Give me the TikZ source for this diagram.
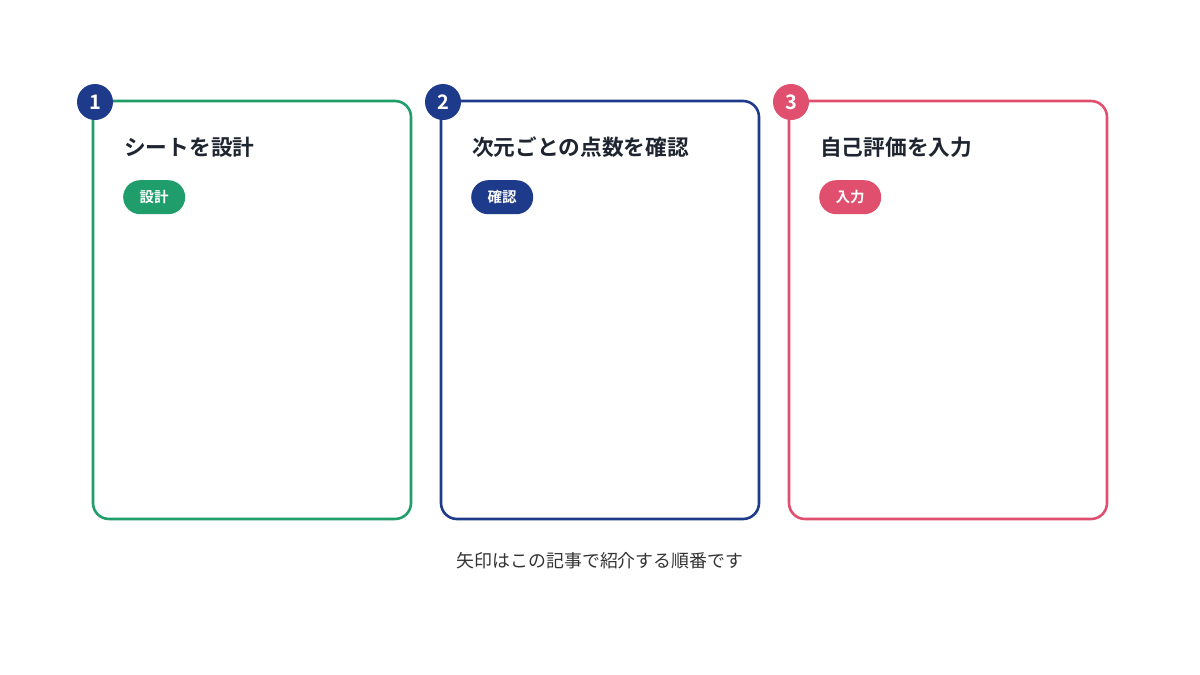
\documentclass[tikz,border=0pt]{standalone}
\usepackage{fontspec}
\setmainfont{Noto Sans CJK JP}
\newfontfamily\jpbold{Noto Sans CJK JP Bold}
\newfontfamily\jpreg{Noto Sans CJK JP}
\definecolor{cgreen}{HTML}{1F9D6B}
\definecolor{cblue}{HTML}{1E3A8A}
\definecolor{cred}{HTML}{E0506E}
\definecolor{ctext}{HTML}{1F2530}
\definecolor{ccap}{HTML}{333333}
\begin{document}
\begin{tikzpicture}[x=1pt,y=-1pt,
  card/.style={line width=2.6pt,rounded corners=16pt},
  numdot/.style={circle,minimum size=36pt,inner sep=0pt,text=white,font=\jpbold\fontsize{20}{20}\selectfont},
  title/.style={anchor=base west,text=ctext,inner sep=0pt,font=\jpbold\fontsize{21.7}{21.7}\selectfont},
  pill/.style={rounded corners=17pt,minimum width=62pt,minimum height=34pt,inner sep=0pt,text=white,font=\jpbold\fontsize{14.5}{14.5}\selectfont,anchor=north west}]
\useasboundingbox (0,0) rectangle (1200,675);
\fill[white] (0,0) rectangle (1200,675);
% cards
\draw[card,draw=cgreen] (93,101) rectangle (411,519);
\draw[card,draw=cblue] (441,101) rectangle (759,519);
\draw[card,draw=cred] (789,101) rectangle (1107,519);
% number dots
\node[numdot,fill=cblue] (n1) at (95,102) {1};
\node[numdot,fill=cblue] (n2) at (443,102) {2};
\node[numdot,fill=cred] (n3) at (791,102) {3};
% titles
\node[title] (t1) at (124,155) {シートを設計};
\node[title] (t2) at (472,155) {次元ごとの点数を確認};
\node[title] (t3) at (820,155) {自己評価を入力};
% pills
\node[pill,fill=cgreen] (p1) at (123,180) {設計};
\node[pill,fill=cblue] (p2) at (471,180) {確認};
\node[pill,fill=cred] (p3) at (819,180) {入力};
% caption
\node[text=ccap,font=\jpreg\fontsize{17.9}{17.9}\selectfont,inner sep=0pt] (cap) at (600,561) {矢印はこの記事で紹介する順番です};
\end{tikzpicture}
\end{document}
